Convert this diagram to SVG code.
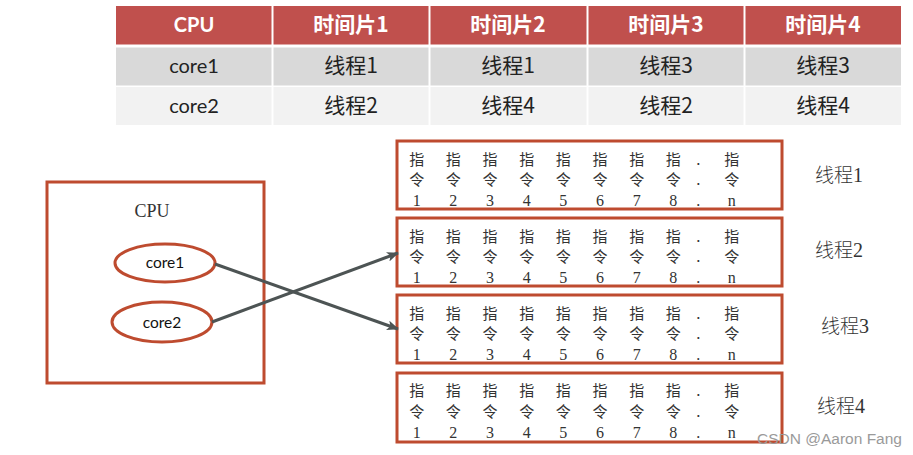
<svg xmlns="http://www.w3.org/2000/svg" width="913" height="455" viewBox="0 0 913 455">
<defs>
<style>
.hdr{fill:#C0504D}
.r1{fill:#D9D9D9}
.r2{fill:#F2F2F2}
.ht{font-family:Lato,"Noto Sans CJK SC",sans-serif;font-weight:bold;font-size:20px;fill:#fff;text-anchor:middle}
.hc{font-family:"Noto Sans CJK SC",sans-serif;font-weight:bold;font-size:21px;fill:#fff;text-anchor:middle}
.ct{font-family:Lato,"Noto Sans CJK SC",sans-serif;font-size:20px;fill:#222;text-anchor:middle}
.cc{font-family:"Noto Sans CJK SC",sans-serif;font-size:21px;fill:#222;text-anchor:middle}
.box{fill:#fff;stroke:#BE4B2F;stroke-width:3}
.ell{fill:#fff;stroke:#BE4B2F;stroke-width:3}
.cj{font-family:"Noto Sans CJK SC",sans-serif;font-weight:400;font-size:15px;fill:#333;text-anchor:middle}
.dg{font-family:"Liberation Serif",serif;font-size:16px;fill:#333;text-anchor:middle}
.lb{font-family:"Noto Sans CJK SC",sans-serif;font-weight:300;font-size:19px;fill:#333}
.lbd{font-family:"Liberation Serif",serif;font-size:20px}
.core{font-family:Lato,"Open Sans",sans-serif;font-size:15.5px;fill:#111;text-anchor:middle}
.conn{stroke:#4D5454;stroke-width:3;fill:none}
</style>
<marker id="ah" viewBox="0 0 12 10" refX="11" refY="5" markerWidth="12" markerHeight="10" markerUnits="userSpaceOnUse" orient="auto">
<path d="M0,0 L12,5 L0,10 L3,5 Z" fill="#4D5454"/>
</marker>
</defs>
<rect width="913" height="455" fill="#fff"/>

<g id="table">
<rect class="hdr" x="116" y="6" width="785" height="38.5"/>
<rect class="r1" x="116" y="47.5" width="785" height="38"/>
<rect class="r2" x="116" y="87" width="785" height="38"/>
<g stroke="#fff" stroke-width="2">
<line x1="272.5" y1="6" x2="272.5" y2="125"/>
<line x1="429.5" y1="6" x2="429.5" y2="125"/>
<line x1="587.5" y1="6" x2="587.5" y2="125"/>
<line x1="744.5" y1="6" x2="744.5" y2="125"/>
</g>
<text class="ht" x="194" y="32">CPU</text>
<text class="hc" x="351" y="32">时间片1</text>
<text class="hc" x="508" y="32">时间片2</text>
<text class="hc" x="666" y="32">时间片3</text>
<text class="hc" x="823" y="32">时间片4</text>
<text class="ct" x="194" y="73">core1</text>
<text class="cc" x="351" y="73">线程1</text>
<text class="cc" x="508" y="73">线程1</text>
<text class="cc" x="666" y="73">线程3</text>
<text class="cc" x="823" y="73">线程3</text>
<text class="ct" x="194" y="113">core2</text>
<text class="cc" x="351" y="113">线程2</text>
<text class="cc" x="508" y="113">线程4</text>
<text class="cc" x="666" y="113">线程2</text>
<text class="cc" x="823" y="113">线程4</text>
</g>

<g id="cpu">
<rect class="box" x="47" y="182" width="217" height="201"/>
<text x="152" y="217" font-family="Liberation Serif,serif" font-size="18" fill="#333" text-anchor="middle">CPU</text>
</g>
<g id="core1">
<ellipse class="ell" cx="165" cy="263" rx="50" ry="19"/>
<text class="core" x="165" y="268">core1</text>
</g>
<g id="core2">
<ellipse class="ell" cx="162" cy="322" rx="50" ry="20"/>
<text class="core" x="162" y="328">core2</text>
</g>

<g id="thread1">
<rect class="box" x="397" y="141" width="385" height="68"/>
<text class="cj" x="416.7 453.3 490 526.7 563.3 600 636.7 673.3 698.3 731.7" y="164.5">指指指指指指指指.指</text>
<text class="cj" x="416.7 453.3 490 526.7 563.3 600 636.7 673.3 698.3 731.7" y="185">令令令令令令令令.令</text>
<text class="dg" x="416.7 453.3 490 526.7 563.3 600 636.7 673.3 698.3 731.7" y="205.5">12345678.n</text>
</g>
<g id="thread2">
<rect class="box" x="397" y="218" width="385" height="68"/>
<text class="cj" x="416.7 453.3 490 526.7 563.3 600 636.7 673.3 698.3 731.7" y="241.5">指指指指指指指指.指</text>
<text class="cj" x="416.7 453.3 490 526.7 563.3 600 636.7 673.3 698.3 731.7" y="262">令令令令令令令令.令</text>
<text class="dg" x="416.7 453.3 490 526.7 563.3 600 636.7 673.3 698.3 731.7" y="282.5">12345678.n</text>
</g>
<g id="thread3">
<rect class="box" x="397" y="295" width="385" height="68"/>
<text class="cj" x="416.7 453.3 490 526.7 563.3 600 636.7 673.3 698.3 731.7" y="318.5">指指指指指指指指.指</text>
<text class="cj" x="416.7 453.3 490 526.7 563.3 600 636.7 673.3 698.3 731.7" y="339">令令令令令令令令.令</text>
<text class="dg" x="416.7 453.3 490 526.7 563.3 600 636.7 673.3 698.3 731.7" y="359.5">12345678.n</text>
</g>
<g id="thread4">
<rect class="box" x="397" y="373" width="385" height="69"/>
<text class="cj" x="416.7 453.3 490 526.7 563.3 600 636.7 673.3 698.3 731.7" y="396">指指指指指指指指.指</text>
<text class="cj" x="416.7 453.3 490 526.7 563.3 600 636.7 673.3 698.3 731.7" y="417">令令令令令令令令.令</text>
<text class="dg" x="416.7 453.3 490 526.7 563.3 600 636.7 673.3 698.3 731.7" y="437.5">12345678.n</text>
</g>

<g id="labels">
<text class="lb" x="815" y="182">线程<tspan class="lbd">1</tspan></text>
<text class="lb" x="815" y="257">线程<tspan class="lbd">2</tspan></text>
<text class="lb" x="821" y="333">线程<tspan class="lbd">3</tspan></text>
<text class="lb" x="817" y="413">线程<tspan class="lbd">4</tspan></text>
</g>

<g id="connectors">
<line class="conn" x1="215" y1="264" x2="398" y2="329" marker-end="url(#ah)"/>
<line class="conn" x1="212" y1="322" x2="398" y2="253" marker-end="url(#ah)"/>
</g>

<text x="757" y="444" font-family="Liberation Sans,sans-serif" font-size="15.5" fill="#9a9a9a">CSDN @Aaron Fang</text>
</svg>
